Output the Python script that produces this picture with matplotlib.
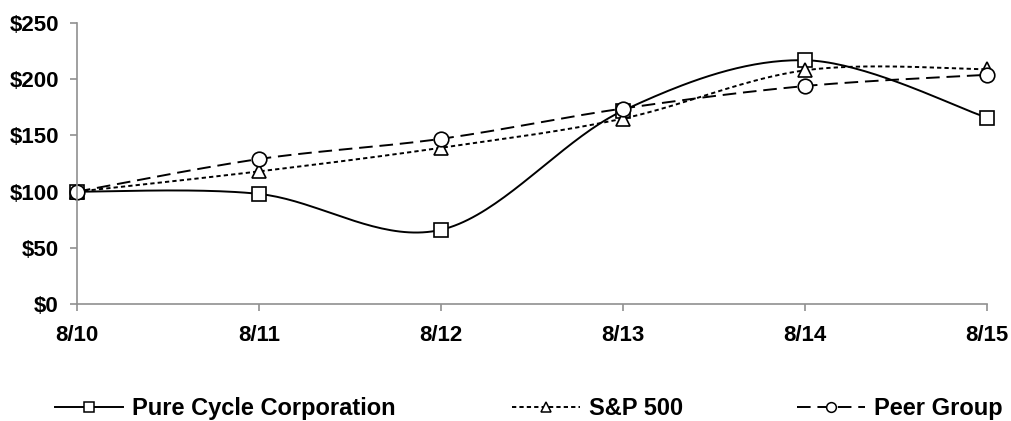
import numpy as np
import matplotlib.pyplot as plt
from matplotlib.lines import Line2D
from matplotlib.ticker import FuncFormatter

plt.rcParams['font.family'] = ['Liberation Sans', 'DejaVu Sans']
plt.rcParams['font.weight'] = 'bold'

dates = ['8/10', '8/11', '8/12', '8/13', '8/14', '8/15']
pure_cycle = [100, 98, 66, 172, 217, 166]
sp500 = [100, 118, 139, 165, 208, 209]
peer_group = [100, 129, 147, 174, 194, 204]


def smooth(y, n=40):
    # excel-style smoothed line (bezier through the points)
    y = np.asarray(y, float)
    x = np.arange(len(y), dtype=float)
    xs, ys = [], []
    t = np.linspace(0, 1, n, endpoint=False)
    for i in range(len(y) - 1):
        p0 = np.array([x[max(i - 1, 0)], y[max(i - 1, 0)]])
        p1 = np.array([x[i], y[i]])
        p2 = np.array([x[i + 1], y[i + 1]])
        p3 = np.array([x[min(i + 2, len(y) - 1)], y[min(i + 2, len(y) - 1)]])
        b1 = p1 + (p2 - p0) / 6
        b2 = p2 - (p3 - p1) / 6
        pts = ((1 - t) ** 3)[:, None] * p1 + (3 * (1 - t) ** 2 * t)[:, None] * b1 \
            + (3 * (1 - t) * t ** 2)[:, None] * b2 + (t ** 3)[:, None] * p2
        xs.extend(pts[:, 0])
        ys.extend(pts[:, 1])
    xs.append(x[-1])
    ys.append(y[-1])
    return np.array(xs), np.array(ys), n


fig = plt.figure(figsize=(10.11, 4.21), dpi=100)
ax = fig.add_axes([0.076, 0.278, 0.9, 0.667])

series = [
    ('Pure Cycle Corporation', pure_cycle, '-', 's', 55),
    ('S&P 500', sp500, (0, (2.2, 1.6)), '^', 512),
    ('Peer Group', peer_group, (0, (7, 3.5)), 'o', 797),
]
for name, vals, ls, mk, lx in series:
    xs, ys, n = smooth(vals)
    ax.plot(xs, ys, color='black', lw=1.4, linestyle=ls, marker=mk,
            markevery=n, markersize=10.5, markerfacecolor='white',
            markeredgecolor='black', markeredgewidth=1.2, clip_on=False)
    h = Line2D([], [], color='black', lw=1.4, linestyle=ls, marker=mk,
               markersize=7, markerfacecolor='white', markeredgecolor='black',
               markeredgewidth=1.1)
    fig.legend([h], [name], loc='center left', bbox_to_anchor=(lx / 1011, 0.029),
               frameon=False, borderpad=0, borderaxespad=0, handlelength=2.9,
               handletextpad=0.35, prop={'weight': 'bold', 'size': 17})

ax.set_xlim(0, 5)
ax.set_ylim(0, 250)
ax.set_xticks(range(len(dates)))
ax.set_xticklabels(dates)
ax.set_yticks(range(0, 251, 50))
ax.yaxis.set_major_formatter(FuncFormatter(lambda v, p: '$%d' % v))
for s in ['top', 'right']:
    ax.spines[s].set_visible(False)
for s in ['left', 'bottom']:
    ax.spines[s].set_color('#909090')
    ax.spines[s].set_linewidth(1.2)
ax.tick_params(axis='both', colors='#909090', labelcolor='black',
               labelsize=16, length=5, width=1.2)
ax.tick_params(axis='x', pad=10)
ax.tick_params(axis='y', pad=8)
for lab in ax.get_xticklabels() + ax.get_yticklabels():
    lab.set_fontweight('bold')

fig.savefig('out.png', dpi=100)
